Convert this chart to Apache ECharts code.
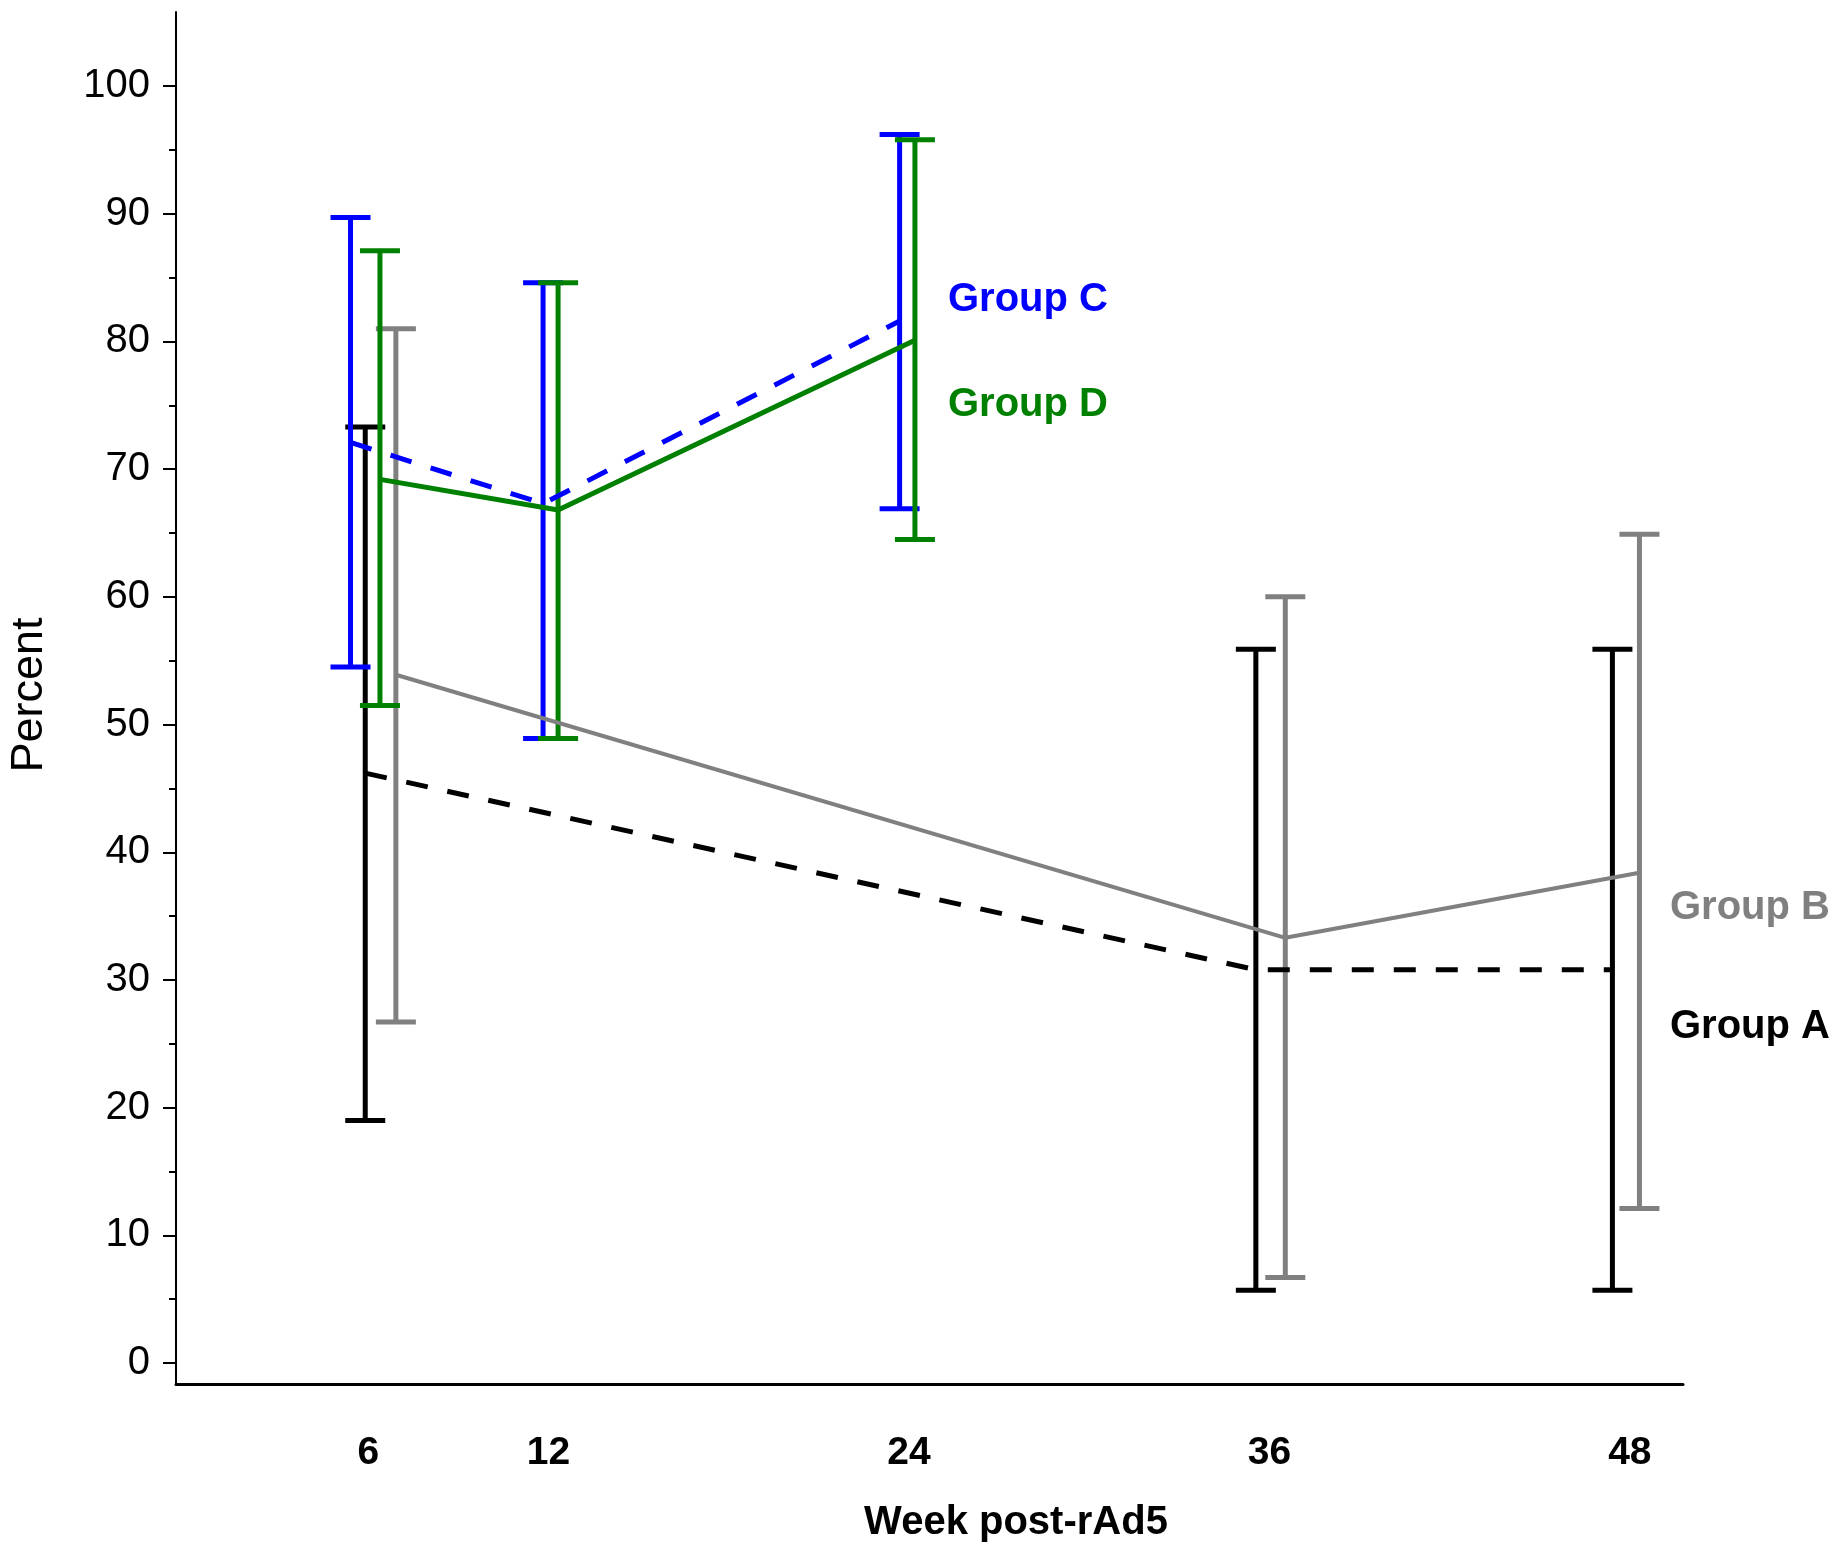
<!DOCTYPE html>
<html>
<head>
<meta charset="utf-8">
<script src="https://cdn.jsdelivr.net/npm/echarts@6/dist/echarts.min.js"></script>
<style>
html,body{margin:0;padding:0;background:#fff;}
#chart{width:1839px;height:1552px;}
</style>
</head>
<body>
<div id="chart"></div>
<script>
// ---- data ----
const weekTicks = [6, 12, 24, 36, 48];
const yMajorTicks = [0, 10, 20, 30, 40, 50, 60, 70, 80, 90, 100];
const yMinorTicks = [5, 15, 25, 35, 45, 55, 65, 75, 85, 95];

// Group A (black, dashed)
const weeksA = [5.90, 35.55, 47.42];
const meanA  = [46.2, 30.8, 30.8];
const lowA   = [19.0, 5.7, 5.7];
const highA  = [73.3, 55.9, 55.9];

// Group B (grey, solid)
const weeksB = [6.92, 36.53, 48.32];
const meanB  = [53.9, 33.3, 38.4];
const lowB   = [26.7, 6.7, 12.1];
const highB  = [81.0, 60.0, 64.9];

// Group C (blue, dashed)
const weeksC = [5.41, 11.82, 23.69];
const meanC  = [72.1, 67.3, 81.6];
const lowC   = [54.5, 48.9, 66.9];
const highC  = [89.7, 84.6, 96.2];

// Group D (green, solid)
const weeksD = [6.39, 12.32, 24.20];
const meanD  = [69.2, 66.8, 80.1];
const lowD   = [51.5, 48.9, 64.5];
const highD  = [87.1, 84.6, 95.8];

const groupNames = ['Group A', 'Group B', 'Group C', 'Group D'];
const xTitle = 'Week post-rAd5';
const yTitle = 'Percent';

// ---- styles ----
const FONT = "'Liberation Sans', Arial, Helvetica, sans-serif";
const C_A = '#000000', C_B = '#808080', C_C = '#0000ff', C_D = '#008000';

function zip2(a, b) { return a.map((v, i) => [v, b[i]]); }
function zip3(a, b, c) { return a.map((v, i) => [v, b[i], c[i]]); }

function errSeries(name, weeks, low, high, color, width) {
  return {
    type: 'custom',
    name: name + ' CI',
    silent: true,
    clip: false,
    data: zip3(weeks, low, high),
    encode: { x: 0, y: [1, 2] },
    renderItem: function (params, api) {
      const x = api.value(0);
      const p1 = api.coord([x, api.value(1)]);
      const p2 = api.coord([x, api.value(2)]);
      const hw = 20;
      const st = { stroke: color, lineWidth: width, fill: null };
      return {
        type: 'group',
        children: [
          { type: 'line', shape: { x1: p1[0], y1: p1[1], x2: p2[0], y2: p2[1] }, style: st },
          { type: 'line', shape: { x1: p1[0] - hw, y1: p1[1], x2: p1[0] + hw, y2: p1[1] }, style: st },
          { type: 'line', shape: { x1: p2[0] - hw, y1: p2[1], x2: p2[0] + hw, y2: p2[1] }, style: st }
        ]
      };
    }
  };
}

function lineSeries(name, weeks, mean, color, width, dashed) {
  return {
    type: 'line',
    name: name,
    data: zip2(weeks, mean),
    showSymbol: false,
    symbol: 'none',
    silent: true,
    animation: false,
    lineStyle: { color: color, width: width, type: dashed ? [22, 20] : 'solid', cap: 'butt' },
    z: 5
  };
}

const chart = echarts.init(document.getElementById('chart'), null, { renderer: 'canvas' });

const option = {
  animation: false,
  backgroundColor: '#ffffff',
  grid: { left: 176, right: 156, top: 12, bottom: 168, containLabel: false },
  xAxis: {
    type: 'value',
    min: -0.40,
    max: 49.77,
    splitLine: { show: false },
    axisLine: { show: true, onZero: false, lineStyle: { color: '#000', width: 3 } },
    axisTick: { show: false },
    axisLabel: {
      show: true,
      customValues: weekTicks,
      margin: 50,
      fontFamily: FONT,
      fontSize: 39,
      fontWeight: 'bold',
      color: '#000'
    }
  },
  yAxis: [
    {
      type: 'value',
      min: -1.64,
      max: 105.8,
      position: 'left',
      splitLine: { show: false },
      axisLine: { show: true, onZero: false, lineStyle: { color: '#000', width: 2 } },
      axisTick: { show: true, customValues: yMajorTicks, length: 13, lineStyle: { color: '#000', width: 2 } },
      axisLabel: {
        show: true,
        customValues: yMajorTicks,
        margin: 26,
        fontFamily: FONT,
        fontSize: 40,
        color: '#000'
      }
    },
    {
      type: 'value',
      min: -1.64,
      max: 105.8,
      position: 'left',
      offset: 0,
      splitLine: { show: false },
      axisLine: { show: false, onZero: false },
      axisTick: { show: true, customValues: yMinorTicks, length: 7, lineStyle: { color: '#000', width: 2 } },
      axisLabel: { show: false }
    }
  ],
  series: [
    errSeries(groupNames[0], weeksA, lowA, highA, C_A, 5),
    errSeries(groupNames[1], weeksB, lowB, highB, C_B, 5),
    errSeries(groupNames[2], weeksC, lowC, highC, C_C, 5),
    errSeries(groupNames[3], weeksD, lowD, highD, C_D, 5),
    lineSeries(groupNames[0], weeksA, meanA, C_A, 5, true),
    lineSeries(groupNames[1], weeksB, meanB, C_B, 4, false),
    lineSeries(groupNames[2], weeksC, meanC, C_C, 5, true),
    lineSeries(groupNames[3], weeksD, meanD, C_D, 5, false)
  ],
  graphic: [
    { type: 'text', left: 948, top: 280, style: { text: groupNames[2], fill: C_C, font: 'bold 40px ' + FONT, verticalAlign: 'top' } },
    { type: 'text', left: 948, top: 385, style: { text: groupNames[3], fill: C_D, font: 'bold 40px ' + FONT, verticalAlign: 'top' } },
    { type: 'text', left: 1670, top: 888, style: { text: groupNames[1], fill: C_B, font: 'bold 40px ' + FONT, verticalAlign: 'top' } },
    { type: 'text', left: 1670, top: 1007, style: { text: groupNames[0], fill: C_A, font: 'bold 40px ' + FONT, verticalAlign: 'top' } },
    { type: 'text', x: 1016, y: 1523, style: { text: xTitle, fill: '#000', font: 'bold 40px ' + FONT, align: 'center', verticalAlign: 'middle' } },
    { type: 'text', x: 30, y: 695, rotation: Math.PI / 2, style: { text: yTitle, fill: '#000', font: '45px ' + FONT, align: 'center', verticalAlign: 'middle' } }
  ]
};

chart.setOption(option);
</script>
</body>
</html>
